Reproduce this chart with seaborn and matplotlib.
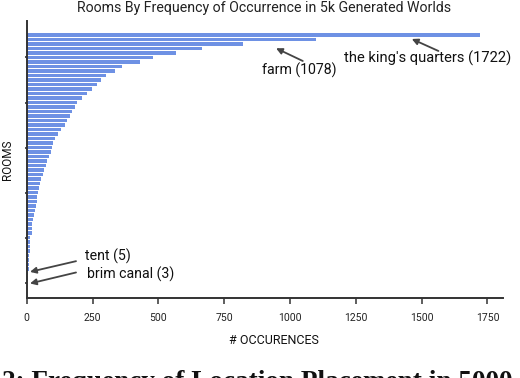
import matplotlib
matplotlib.use("Agg")
import matplotlib.pyplot as plt
import seaborn as sns
import pandas as pd

# ---- data ----
counts = [1722, 1100, 822, 665, 566, 479, 430, 361, 336, 301,
          282, 266, 248, 230, 210, 192, 182, 171, 163, 152,
          145, 130, 119, 106, 101, 95, 91, 85, 77, 73,
          67, 63, 55, 50, 47, 44, 41, 38, 35, 32,
          28, 25, 21, 20, 19, 14, 13, 13, 11, 10,
          9, 8, 7, 6, 5, 3]
rooms = (["the king's quarters", "farm"]
         + [f"room {i + 3}" for i in range(len(counts) - 4)]
         + ["tent", "brim canal"])
x_ticks = [0, 250, 500, 750, 1000, 1250, 1500, 1750]
title = "Rooms By Frequency of Occurrence in 5k Generated Worlds"
annotations = [("the king's quarters (1722)", 0), ("farm (1078)", 1),
               ("tent (5)", 53), ("brim canal (3)", 55)]

df = pd.DataFrame({"room": rooms, "count": counts})

sns.set_theme(style="white")
plt.rcParams["font.family"] = ["Roboto", "DejaVu Sans"]

W, H = 520, 378
fig = plt.figure(figsize=(W / 100, H / 100), dpi=100)
ax = fig.add_axes([26.7 / W, 1 - 298 / H, 476 / W, 277 / H])

sns.barplot(data=df, x="count", y="room", orient="h", color="#6e91e4",
            saturation=1, width=0.78, errorbar=None, linewidth=0, ax=ax)

ax.set_xlim(0, 1808)
ax.set_ylim(58.4, -3.1)
ax.set_xticks(x_ticks)
ax.set_xticklabels([str(t) for t in x_ticks], fontsize=7.5, color="#222222")
ax.set_yticks([5, 15, 25, 35, 45, 55])
ax.set_yticklabels([])
ax.tick_params(axis="x", direction="out", length=4.5, width=1.1,
               color="#333333", pad=6, bottom=True)
ax.tick_params(axis="y", direction="out", length=1.5, width=1.2,
               color="#333333", left=True)
ax.set_xlabel("")
ax.set_ylabel("")
for s in ["top", "right"]:
    ax.spines[s].set_visible(False)
for s in ["left", "bottom"]:
    ax.spines[s].set_color("#333333")
    ax.spines[s].set_linewidth(1.4)

fig.text(264 / W, 1 - 8 / H, title, ha="center", va="center",
         fontsize=10.2, color="#222222")
fig.text(274 / W, 1 - 340 / H, "# OCCURENCES", ha="center", va="center",
         fontsize=9, color="#111111")
fig.text(7 / W, 1 - 160 / H, "ROOMS", ha="center", va="center",
         rotation=90, fontsize=8.5, color="#111111")

# annotation placement (pixel-derived data coords)
def dx(px):
    return (px - 26.7) / 0.2632

def dy(py):
    return (py - 35) / 4.5

arrow_kw = dict(arrowstyle="-|>", color="#444444", lw=1.3,
                mutation_scale=9, shrinkA=0, shrinkB=0)
# (text x, text y, ha, size, head px, tail px)
layout = [
    (427.5, 58, "center", 10.6, (411.7, 39), (438.3, 51)),
    (298.7, 70, "center", 10.2, (276, 48.3), (302.7, 61)),
    (85, 256.5, "left", 10.2, (30, 271.7), (76, 261)),
    (86.5, 274, "left", 10.2, (30, 283.3), (76, 272.3)),
]
for (label, idx), (tx, ty, ha, fs, head, tail) in zip(annotations, layout):
    ax.annotate("", xy=(dx(head[0]), dy(head[1])),
                xytext=(dx(tail[0]), dy(tail[1])), arrowprops=arrow_kw,
                annotation_clip=False)
    ax.text(dx(tx), dy(ty), label, ha=ha, va="center", fontsize=fs,
            color="#111111", clip_on=False)

fig.text(2 / W, 1 - 389 / H, "2: Frequency of Location Placement in 5000",
         ha="left", va="baseline", fontsize=19.6, fontweight="bold",
         family=["Liberation Serif", "DejaVu Serif"], color="#111111")

fig.savefig("out.png", dpi=100)
